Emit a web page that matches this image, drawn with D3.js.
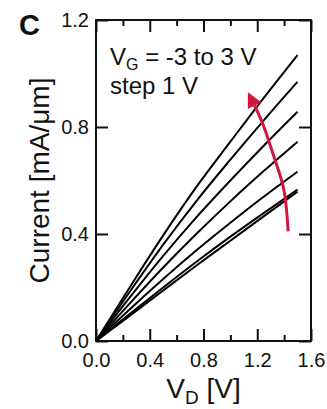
<!DOCTYPE html>
<html>
<head>
<meta charset="utf-8">
<script src="https://cdn.jsdelivr.net/npm/d3@7"></script>
<style>
  body { margin: 0; background: #fff; }
  svg { display: block; }
  text { font-family: "Liberation Sans", Arial, Helvetica, sans-serif; fill: #111; }
</style>
</head>
<body>
<script>
// Output characteristics: drain current vs drain voltage, one curve per gate voltage
const drainVoltage = [0, 0.25, 0.5, 0.75, 1.0, 1.25, 1.5];
const gateVoltages = [-3, -2, -1, 0, 1, 2, 3];
const currentVgM3 = [0, 0.094, 0.189, 0.283, 0.375, 0.467, 0.558];
const currentVgM2 = [0, 0.101, 0.200, 0.297, 0.390, 0.479, 0.566];
const currentVgM1 = [0, 0.118, 0.232, 0.340, 0.442, 0.540, 0.633];
const currentVg0  = [0, 0.140, 0.275, 0.402, 0.522, 0.636, 0.745];
const currentVg1  = [0, 0.162, 0.318, 0.464, 0.600, 0.731, 0.857];
const currentVg2  = [0, 0.183, 0.360, 0.525, 0.678, 0.826, 0.969];
const currentVg3  = [0, 0.200, 0.395, 0.578, 0.745, 0.910, 1.069];
const currentSeries = [currentVgM3, currentVgM2, currentVgM1, currentVg0, currentVg1, currentVg2, currentVg3];

const xTicks = [0, 0.4, 0.8, 1.2, 1.6];
const xMinorTicks = [0.2, 0.6, 1.0, 1.4];
const yTicks = [0, 0.4, 0.8, 1.2];

// Arrow showing the direction of increasing gate voltage (in data units)
const arrowV = [1.43, 1.40, 1.33, 1.25, 1.17];
const arrowI = [0.41, 0.56, 0.68, 0.80, 0.89];

const W = 327, H = 409;
const plotLeft = 96, plotRight = 311, plotTop = 20, plotBottom = 341;

const svg = d3.select("body").append("svg").attr("width", W).attr("height", H);

const x = d3.scaleLinear().domain([0, 1.6]).range([plotLeft, plotRight]);
const y = d3.scaleLinear().domain([0, 1.2]).range([plotBottom, plotTop]);

const fmt = d3.format(".1f");

// Ticks point inward on all four sides
function styleAxis(g) {
  g.select(".domain").remove();
  g.selectAll(".tick line").attr("stroke", "#111").attr("stroke-width", 2);
  g.selectAll(".tick text").attr("font-size", 20).attr("fill", "#111")
    .attr("font-family", "Liberation Sans, Arial, sans-serif");
}

svg.append("g").attr("transform", `translate(0,${plotBottom})`)
  .call(d3.axisBottom(x).tickValues(xTicks).tickFormat(fmt).tickSizeInner(-12).tickSizeOuter(0).tickPadding(12))
  .call(styleAxis);
svg.append("g").attr("transform", `translate(0,${plotBottom})`)
  .call(d3.axisBottom(x).tickValues(xMinorTicks).tickFormat("").tickSizeInner(-6).tickSizeOuter(0))
  .call(styleAxis);
svg.append("g").attr("transform", `translate(0,${plotTop})`)
  .call(d3.axisTop(x).tickValues(xTicks).tickFormat("").tickSizeInner(-12).tickSizeOuter(0))
  .call(styleAxis);
svg.append("g").attr("transform", `translate(0,${plotTop})`)
  .call(d3.axisTop(x).tickValues(xMinorTicks).tickFormat("").tickSizeInner(-6).tickSizeOuter(0))
  .call(styleAxis);
svg.append("g").attr("transform", `translate(${plotLeft},0)`)
  .call(d3.axisLeft(y).tickValues(yTicks).tickFormat(fmt).tickSizeInner(-12).tickSizeOuter(0).tickPadding(7))
  .call(styleAxis);
svg.append("g").attr("transform", `translate(${plotRight},0)`)
  .call(d3.axisRight(y).tickValues(yTicks).tickFormat("").tickSizeInner(-12).tickSizeOuter(0))
  .call(styleAxis);

// Plot frame
svg.append("rect")
  .attr("x", plotLeft).attr("y", plotTop)
  .attr("width", plotRight - plotLeft).attr("height", plotBottom - plotTop)
  .attr("fill", "none").attr("stroke", "#111").attr("stroke-width", 2);

// I-V curves
const line = d3.line()
  .x((d, i) => x(drainVoltage[i]))
  .y(d => y(d))
  .curve(d3.curveMonotoneX);

svg.append("g").selectAll("path")
  .data(currentSeries)
  .join("path")
  .attr("d", line)
  .attr("fill", "none")
  .attr("stroke", "#000")
  .attr("stroke-width", 2);

// Red arrow
const red = "#d3163d";
svg.append("defs").append("marker")
  .attr("id", "head")
  .attr("viewBox", "0 0 10 10")
  .attr("refX", 2).attr("refY", 5)
  .attr("markerUnits", "userSpaceOnUse")
  .attr("markerWidth", 17).attr("markerHeight", 15)
  .attr("orient", "auto")
  .append("path")
  .attr("d", "M0,0 L10,5 L0,10 Z")
  .attr("fill", red);

const arrowLine = d3.line()
  .x((d, i) => x(arrowV[i]))
  .y(d => y(d))
  .curve(d3.curveNatural);

svg.append("path")
  .attr("d", arrowLine(arrowI))
  .attr("fill", "none")
  .attr("stroke", red)
  .attr("stroke-width", 3)
  .attr("marker-end", "url(#head)");

// Annotation
const note = svg.append("text").attr("x", 110).attr("y", 65).attr("font-size", 24);
note.append("tspan").text("V");
note.append("tspan").attr("font-size", 16).attr("dy", 5).text("G");
note.append("tspan").attr("dy", -5).text(" = -3 to 3 V");
svg.append("text").attr("x", 110).attr("y", 94).attr("font-size", 24).text("step 1 V");

// Axis titles
const xt = svg.append("text").attr("x", (plotLeft + plotRight) / 2).attr("y", 398)
  .attr("text-anchor", "middle").attr("font-size", 28);
xt.append("tspan").text("V");
xt.append("tspan").attr("font-size", 19).attr("dy", 6).text("D");
xt.append("tspan").attr("dy", -6).text(" [V]");

svg.append("text")
  .attr("transform", `translate(49,${(plotTop + plotBottom) / 2}) rotate(-90)`)
  .attr("text-anchor", "middle").attr("font-size", 28)
  .text("Current [mA/\u03BCm]");

// Panel label
svg.append("text").attr("x", 19).attr("y", 35)
  .attr("font-size", 29).attr("font-weight", "bold").text("C");
</script>
</body>
</html>
